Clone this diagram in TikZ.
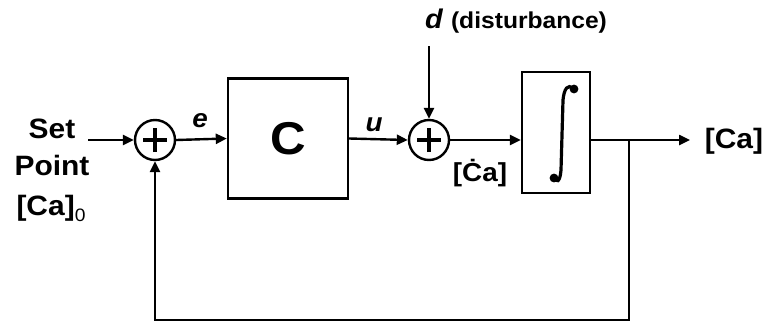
\documentclass[tikz,border=0pt]{standalone}
\usepackage{fontspec}
\setmainfont{Liberation Sans}[FakeStretch=1.07]
\usetikzlibrary{arrows.meta}
\tikzset{
  wire/.style={line width=2.4pt, draw=black},
  arr/.style={wire, -{Triangle[length=11pt,width=10pt]}},
  blockbox/.style={draw=black, line width=2.4pt, minimum width=#1, inner sep=0pt},
  sumnode/.style={circle, draw=black, line width=2.4pt, minimum size=40pt, inner sep=0pt},
  lbl/.style={font=\fontsize{28}{30}\selectfont\bfseries, inner sep=0pt},
  ilbl/.style={font=\fontsize{26}{28}\selectfont\bfseries\itshape, inner sep=0pt},
}
\begin{document}
\begin{tikzpicture}[x=1pt,y=-1pt]
\useasboundingbox (0,0) rectangle (767,327);
% texts on the left
\node[lbl, anchor=base] (set) at (52,138) {Set};
\node[lbl, anchor=base] (point) at (52,175) {Point};
\node[lbl, anchor=base] (ca0) at (51,215) {[Ca]{\fontsize{18}{18}\selectfont\mdseries\raisebox{-6pt}{0}}};
\coordinate (in) at (88,140);
% summing junctions
\node[sumnode] (s1) at (155,140) {};
\node[sumnode] (s2) at (429,140) {};
\foreach \s in {s1,s2}{
  \draw[line width=3.6pt] ([xshift=-12pt]\s.center) -- ([xshift=12pt]\s.center);
  \draw[line width=3.6pt] ([yshift=-12pt]\s.center) -- ([yshift=12pt]\s.center);
}
% blocks
\node[blockbox=120pt, minimum height=120pt] (C) at (288,138.5) {};
\node[font=\fontsize{46}{46}\selectfont\bfseries, inner sep=0pt] (Clbl) at (288,139) {C};
\node[blockbox=68pt, minimum height=121pt] (I) at (556,132.5) {};
% integral sign
\draw[line width=3.2pt, line cap=round] (573,89) .. controls (568,83) and (564,89) .. (563,100) -- (561,170) .. controls (560,183) and (556,183) .. (555,177);
\fill (574,89) circle (4.4pt);
\fill (554,178) circle (4.4pt);
% labels
\node[ilbl] (e) at (200,121) {e};
\node[ilbl] (u) at (374,125) {u};
\node[lbl, anchor=base] (dl) at (516,28) {{\fontsize{27}{28}\selectfont\itshape d}\ {\fontsize{23}{24}\selectfont(disturbance)}};
\coordinate (dtop) at (429,46);
\node[lbl, font=\fontsize{26}{28}\selectfont\bfseries, anchor=base] (cadot) at (480,181) {[\.{C}a]};
\node[lbl, anchor=base] (out) at (734,148) {[Ca]};
\coordinate (outend) at (690,140);
\coordinate (br) at (629,140);
\coordinate (bl) at (629,320);
\coordinate (fl) at (155,320);
% connectors
\draw[arr] (in) -- (s1.west);
\draw[arr] (s1.east) -- (C.west);
\draw[arr] (C.east) -- (s2.west);
\draw[arr] (dtop) -- (s2.north);
\draw[arr] (s2.east) -- (I.west |- s2.east);
\draw[arr] (I.east |- s2.east) -- (outend);
\draw[arr, line join=miter] (br) -- (bl) -- (fl) -- (s1.south);
\end{tikzpicture}
\end{document}
